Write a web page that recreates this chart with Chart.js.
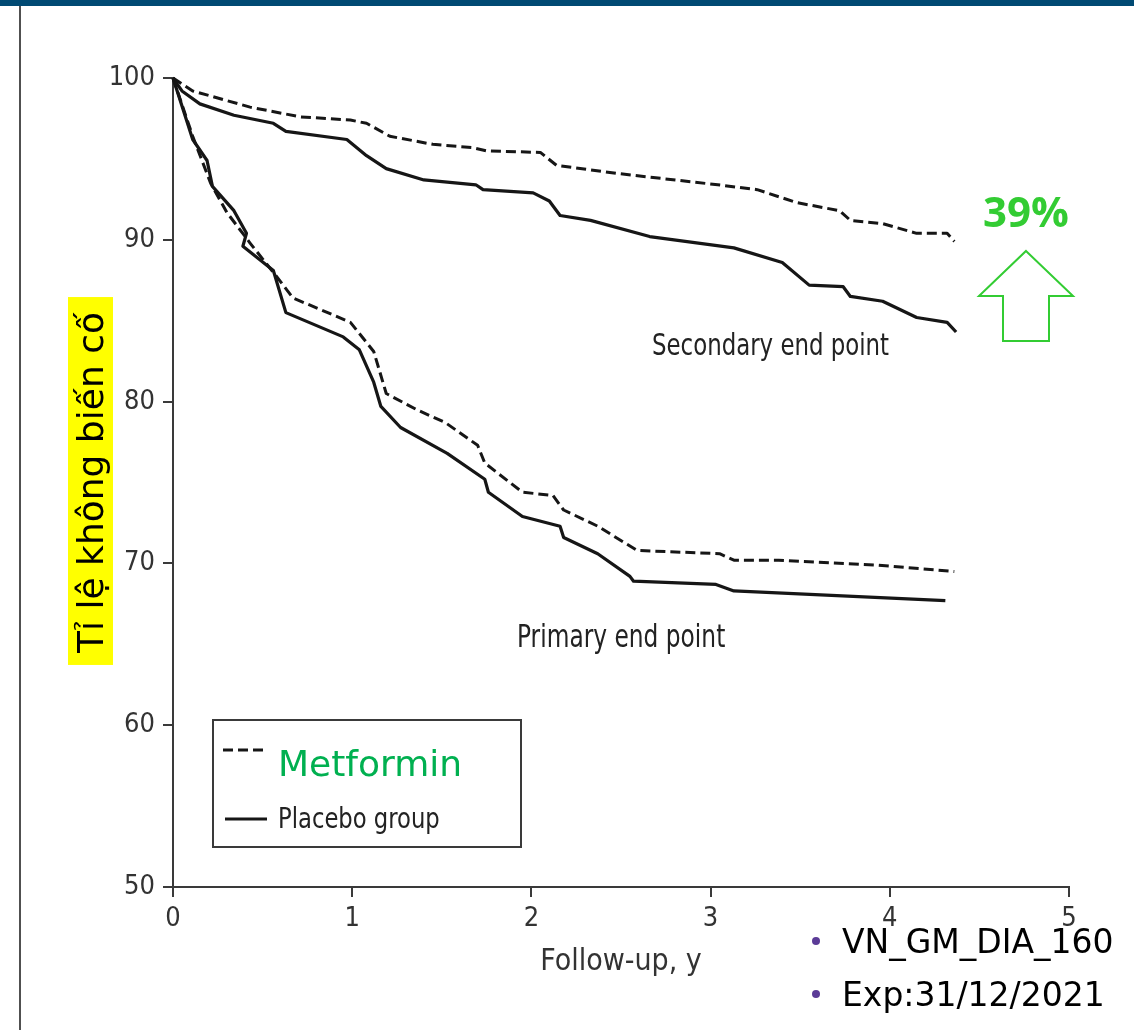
<!DOCTYPE html>
<html><head><meta charset="utf-8">
<script src="https://cdn.jsdelivr.net/npm/chart.js@4"></script>
<style>
html,body{margin:0;padding:0;background:#fff;}
#wrap{position:relative;width:1134px;height:1030px;overflow:hidden;background:#fff;}
#topbar{position:absolute;left:0;top:0;width:1134px;height:6px;background:#004a73;}
#leftline{position:absolute;left:19px;top:6px;width:2px;height:1024px;background:#505050;}
#c{position:absolute;left:0;top:0;}
</style></head><body>
<div id="wrap"><canvas id="c" width="1134" height="1030"></canvas><div id="topbar"></div><div id="leftline"></div></div>
<script>
// ---- data ----
const xTicks = [0, 1, 2, 3, 4, 5];
const yTicks = [50, 60, 70, 80, 90, 100];

const secMetX = [0, 0.11, 0.43, 0.71, 0.99, 1.08, 1.21, 1.45, 1.67, 1.75, 2.05, 2.14, 2.48, 3.04, 3.26, 3.48, 3.72, 3.78, 3.96, 4.15, 4.32, 4.36];
const secMetY = [100, 99.2, 98.2, 97.6, 97.4, 97.2, 96.4, 95.9, 95.7, 95.5, 95.4, 94.6, 94.1, 93.4, 93.1, 92.3, 91.8, 91.2, 91.0, 90.4, 90.4, 89.9];

const secPlaX = [0, 0.05, 0.15, 0.34, 0.56, 0.63, 0.97, 1.08, 1.19, 1.40, 1.69, 1.73, 2.01, 2.10, 2.16, 2.33, 2.66, 3.13, 3.40, 3.55, 3.74, 3.78, 3.96, 4.15, 4.32, 4.37];
const secPlaY = [100, 99.2, 98.4, 97.7, 97.2, 96.7, 96.2, 95.2, 94.4, 93.7, 93.4, 93.1, 92.9, 92.4, 91.5, 91.2, 90.2, 89.5, 88.6, 87.2, 87.1, 86.5, 86.2, 85.2, 84.9, 84.3];

const priPlaX = [0, 0.11, 0.19, 0.22, 0.34, 0.41, 0.39, 0.56, 0.63, 0.95, 1.04, 1.12, 1.16, 1.27, 1.53, 1.74, 1.76, 1.95, 2.16, 2.18, 2.37, 2.55, 2.57, 3.03, 3.13, 4.31];
const priPlaY = [100, 96.2, 94.9, 93.3, 91.8, 90.4, 89.6, 88.1, 85.5, 84.0, 83.2, 81.2, 79.7, 78.4, 76.8, 75.2, 74.4, 72.9, 72.3, 71.6, 70.6, 69.2, 68.9, 68.7, 68.3, 67.7];

const priMetX = [0, 0.11, 0.21, 0.30, 0.43, 0.58, 0.67, 0.82, 0.99, 1.12, 1.19, 1.36, 1.52, 1.70, 1.74, 1.95, 2.12, 2.18, 2.37, 2.59, 3.05, 3.13, 3.38, 3.92, 4.36];
const priMetY = [100, 96.4, 93.5, 91.7, 89.8, 87.7, 86.4, 85.7, 84.9, 83.1, 80.5, 79.5, 78.7, 77.3, 76.2, 74.4, 74.2, 73.3, 72.3, 70.8, 70.6, 70.2, 70.2, 69.9, 69.5];

const seriesNames = ['Metformin', 'Placebo group'];
const yTitle = 'Tỉ lệ không biến cố';
const xTitle = 'Follow-up, y';
const reduction = '39%';

// ---- styles ----
const NARROW = "'Liberation Sans Narrow', 'DejaVu Sans Condensed', 'Liberation Sans', sans-serif";
const VERD = "'DejaVu Sans', Verdana, sans-serif";
const INK = '#161616';
const AXIS = '#3a3a3a';

function pts(xs, ys) { return xs.map((x, i) => ({ x: x, y: ys[i] })); }

const lineBase = { pointRadius: 0, pointHoverRadius: 0, tension: 0, fill: false, clip: false, borderColor: INK, borderJoinStyle: 'round', borderCapStyle: 'butt' };

function narrowText(ctx, text, x, y, size, sx) {
  ctx.save();
  ctx.font = size + 'px ' + NARROW;
  ctx.translate(x, y);
  ctx.scale(sx, 1);
  ctx.fillText(text, 0, 0);
  ctx.restore();
}

const decor = {
  id: 'decor',
  beforeDraw(chart) {
    const ctx = chart.ctx; const ys = chart.scales.y;
    ctx.save();
    ctx.font = '36px ' + VERD;
    const w = ctx.measureText(yTitle).width;
    const cy = (ys.top + ys.bottom) / 2;
    ctx.fillStyle = '#ffff00';
    ctx.fillRect(68, cy - w / 2 - 15, 45, w + 27);
    ctx.restore();
  },
  afterDraw(chart) {
    const ctx = chart.ctx;
    ctx.save();
    // legend box
    ctx.fillStyle = '#fff';
    ctx.fillRect(213, 720, 308, 127);
    ctx.strokeStyle = AXIS; ctx.lineWidth = 2;
    ctx.strokeRect(213, 720, 308, 127);
    ctx.strokeStyle = INK; ctx.lineWidth = 3;
    ctx.setLineDash([10, 5]);
    ctx.beginPath(); ctx.moveTo(223, 750); ctx.lineTo(268, 750); ctx.stroke();
    ctx.setLineDash([]);
    ctx.beginPath(); ctx.moveTo(225, 819); ctx.lineTo(267, 819); ctx.stroke();
    ctx.textBaseline = 'alphabetic'; ctx.textAlign = 'left';
    ctx.fillStyle = '#00b050'; ctx.font = '36px ' + VERD;
    ctx.fillText(seriesNames[0], 278, 776);
    ctx.fillStyle = '#222';
    narrowText(ctx, seriesNames[1], 278, 828, 29, 0.87);
    // curve labels
    narrowText(ctx, 'Secondary end point', 652, 355, 31, 0.82);
    narrowText(ctx, 'Primary end point', 517, 647, 32, 0.81);
    // 39% + arrow
    ctx.fillStyle = '#33cc33'; ctx.textAlign = 'center';
    ctx.font = "bold 42px 'Open Sans', sans-serif";
    ctx.fillText(reduction, 1026, 227);
    ctx.strokeStyle = '#33cc33'; ctx.lineWidth = 2;
    ctx.beginPath();
    ctx.moveTo(1026, 251); ctx.lineTo(1073, 296); ctx.lineTo(1049, 296); ctx.lineTo(1049, 341);
    ctx.lineTo(1003, 341); ctx.lineTo(1003, 296); ctx.lineTo(979, 296); ctx.closePath();
    ctx.stroke();
    // footer bullets
    ctx.textAlign = 'left';
    ctx.fillStyle = '#5b3b97';
    ctx.beginPath(); ctx.arc(816, 941, 4, 0, Math.PI * 2); ctx.fill();
    ctx.beginPath(); ctx.arc(816, 994, 4, 0, Math.PI * 2); ctx.fill();
    ctx.fillStyle = '#000'; ctx.font = '33px ' + VERD;
    ctx.fillText('VN_GM_DIA_160', 842, 953);
    ctx.fillText('Exp:31/12/2021', 842, 1006);
    ctx.restore();
  }
};

new Chart(document.getElementById('c'), {
  type: 'line',
  data: {
    datasets: [
      Object.assign({ label: seriesNames[0] + ' (secondary)', data: pts(secMetX, secMetY), borderWidth: 3, borderDash: [10, 5] }, lineBase),
      Object.assign({ label: seriesNames[1] + ' (secondary)', data: pts(secPlaX, secPlaY), borderWidth: 3.2 }, lineBase),
      Object.assign({ label: seriesNames[0] + ' (primary)', data: pts(priMetX, priMetY), borderWidth: 3, borderDash: [10, 5] }, lineBase),
      Object.assign({ label: seriesNames[1] + ' (primary)', data: pts(priPlaX, priPlaY), borderWidth: 3.2 }, lineBase)
    ]
  },
  options: {
    responsive: false, animation: false, devicePixelRatio: 1,
    layout: { padding: { left: 0, top: 78, right: 65, bottom: 0 } },
    plugins: { legend: { display: false }, tooltip: { enabled: false } },
    scales: {
      x: {
        type: 'linear', min: xTicks[0], max: xTicks[xTicks.length - 1],
        afterBuildTicks: s => { s.ticks = xTicks.map(v => ({ value: v })); },
        afterFit: s => { s.height = 143; },
        border: { display: true, color: AXIS, width: 2 },
        grid: { display: true, drawOnChartArea: false, drawTicks: true, tickLength: 10, color: AXIS, lineWidth: 2 },
        ticks: { padding: 6, color: '#333', font: { family: NARROW, size: 27 }, maxRotation: 0 },
        title: { display: true, text: xTitle, color: '#333', font: { family: NARROW, size: 30 }, padding: { top: 0, bottom: 50 } }
      },
      y: {
        type: 'linear', min: yTicks[0], max: yTicks[yTicks.length - 1],
        afterBuildTicks: s => { s.ticks = yTicks.map(v => ({ value: v })); },
        afterFit: s => { s.width = 173; },
        border: { display: true, color: AXIS, width: 2 },
        grid: { display: true, drawOnChartArea: false, drawTicks: true, tickLength: 10, color: AXIS, lineWidth: 2 },
        ticks: { padding: 8, color: '#333', font: { family: NARROW, size: 27 } },
        title: { display: true, text: yTitle, color: '#000', font: { family: VERD, size: 36 }, padding: { top: 72, bottom: 0 } }
      }
    }
  },
  plugins: [decor]
});
</script>
</body></html>
